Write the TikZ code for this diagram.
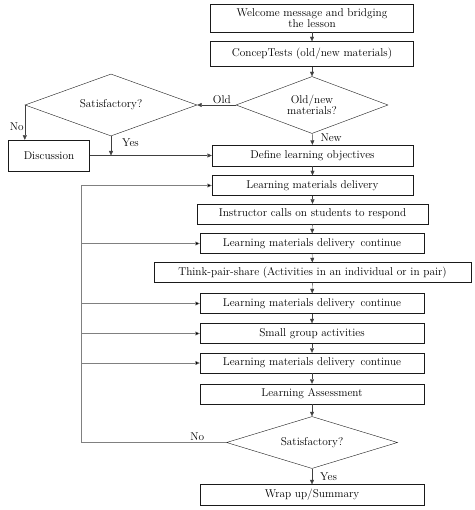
\documentclass[tikz,border=0pt]{standalone}
\usepackage{tikz}
\usetikzlibrary{shapes.geometric, arrows.meta, positioning}
\definecolor{boxline}{HTML}{1A1A1A}
\definecolor{loopgray}{HTML}{808080}
\definecolor{arrowgray}{HTML}{404040}

\begin{document}
\begin{tikzpicture}[x=1pt, y=-1pt,
    stepbox/.style={draw=boxline, thin, inner sep=1pt, align=center, font=\fontsize{11.3}{12.3}\selectfont},
    decision/.style={draw=boxline, thin, diamond, inner sep=0pt, align=center, font=\fontsize{11.3}{12.3}\selectfont},
    flow/.style={draw=arrowgray, -{Triangle[length=4.5pt, width=4pt]}},
    backflow/.style={draw=loopgray, -{Triangle[length=4.5pt, width=4pt, fill=black]}},
    tag/.style={font=\fontsize{11.3}{12.3}\selectfont, inner sep=1pt}]
    \useasboundingbox (0,0) rectangle (474,510);

    % Opening steps
    \node[stepbox, minimum width=203pt, minimum height=28pt] (welcome) at (312,18) {Welcome message and bridging\\[-1pt]the lesson};
    \node[stepbox, minimum width=203pt, minimum height=25pt] (concep) at (312,54) {ConcepTests (old/new materials)};

    % Decisions on top
    \node[decision, shape aspect=2.7, minimum width=152pt, minimum height=57pt] (oldnew) at (312,105) {Old/new\\[-1pt]materials?};
    \node[decision, shape aspect=2.8, minimum width=172pt, minimum height=62pt] (sat1) at (111,105) {Satisfactory?};
    \node[stepbox, minimum width=81pt, minimum height=31pt] (discuss) at (49,155.5) {Discussion};

    % Main sequence
    \node[stepbox, minimum width=201pt, minimum height=21pt] (define) at (312.5,155.5) {Define learning objectives};
    \node[stepbox, minimum width=201pt, minimum height=20pt] (lmd) at (312.5,185.5) {Learning materials delivery};
    \node[stepbox, minimum width=231pt, minimum height=20pt] (instr) at (312.5,214) {Instructor calls on students to respond};
    \node[stepbox, minimum width=224pt, minimum height=20pt] (lmdc1) at (312,243.5) {Learning materials delivery\, continue};
    \node[stepbox, minimum width=317pt, minimum height=20pt] (tps) at (312.5,272.5) {Think-pair-share (Activities in an individual or in pair)};
    \node[stepbox, minimum width=224pt, minimum height=20pt] (lmdc2) at (312,303.5) {Learning materials delivery\, continue};
    \node[stepbox, minimum width=224pt, minimum height=20pt] (small) at (312,333.5) {Small group activities};
    \node[stepbox, minimum width=224pt, minimum height=20pt] (lmdc3) at (312,363) {Learning materials delivery\, continue};
    \node[stepbox, minimum width=224pt, minimum height=20pt] (assess) at (312,394) {Learning Assessment};
    \node[decision, shape aspect=3.3, minimum width=171pt, minimum height=52pt] (sat2) at (312,442.5) {Satisfactory?};
    \node[stepbox, minimum width=224pt, minimum height=21pt] (wrap) at (312,495) {Wrap up/Summary};

    % Helper points
    \coordinate (joinyes) at (sat1.south |- discuss.east);
    \coordinate (loopbot) at (81.5,442.5);
    \coordinate (looptop) at (81.5,185.5);

    % Straight arrows down the middle
    \draw[flow] (welcome) -- (concep);
    \draw[flow] (concep) -- (oldnew);
    \draw[flow] (oldnew) -- node[tag, right, pos=0.35, xshift=7pt] (newlbl) {New} (define);
    \draw[flow] (define) -- (lmd);
    \draw[flow] (lmd) -- (instr);
    \draw[flow] (instr) -- (lmdc1);
    \draw[flow] (lmdc1) -- (tps);
    \draw[flow] (tps) -- (lmdc2);
    \draw[flow] (lmdc2) -- (small);
    \draw[flow] (small) -- (lmdc3);
    \draw[flow] (lmdc3) -- (assess);
    \draw[flow] (assess) -- (sat2);
    \draw[flow] (sat2) -- node[tag, right, pos=0.5, xshift=7pt] (yeslbl2) {Yes} (wrap);

    % Old branch
    \draw[flow] (oldnew.west) -- node[tag, above, pos=0.36] (oldlbl) {Old} (sat1.east);
    \draw[flow] (sat1.west) -- node[tag, left, pos=0.63] (nolbl1) {No} (sat1.west |- discuss.north);
    \draw[flow] (sat1.south) -- node[tag, right, pos=0.36, xshift=10pt] (yeslbl1) {Yes} (joinyes);
    \draw[flow] (discuss) -- (define);

    % Loop back
    \draw[backflow] (sat2.west) -- node[tag, above, pos=0.2, yshift=1pt] (nolbl2) {No} (loopbot) -- (looptop) -- (lmd.west);
    \foreach \tgt in {lmdc1, lmdc2, small, lmdc3} {
        \draw[backflow] (looptop |- \tgt.west) -- (\tgt.west);
    }
\end{tikzpicture}
\end{document}
